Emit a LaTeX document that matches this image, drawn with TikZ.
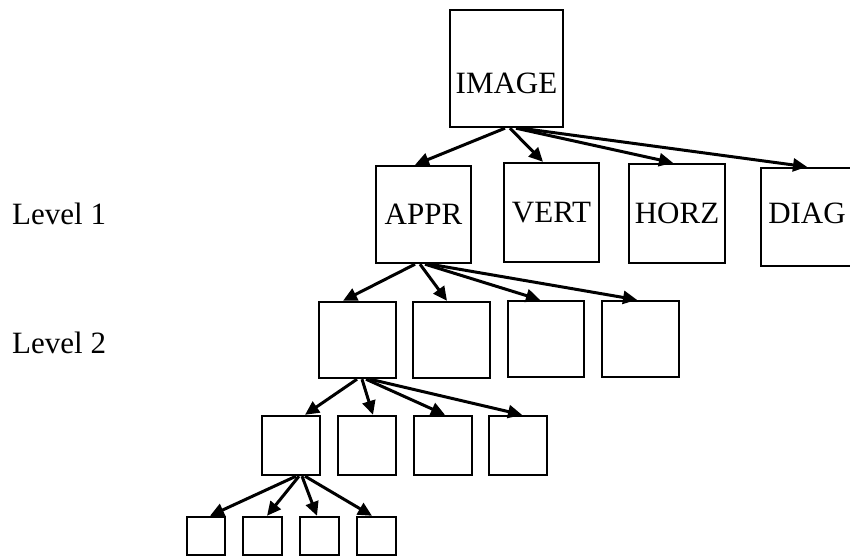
\documentclass[tikz,border=0pt]{standalone}
\usepackage{fontspec}
\setmainfont{Liberation Serif}
\usetikzlibrary{arrows.meta}
\begin{document}
\begin{tikzpicture}[x=1pt,y=-1pt,
  box/.style={draw,line width=2.4pt,rectangle,inner sep=0pt,font=\fontsize{31}{37}\selectfont},
  lab/.style={inner sep=0pt,anchor=west,font=\fontsize{31}{37}\selectfont},
  arr/.style={line width=3pt,-{Triangle[length=14pt,width=13pt]}}]
\useasboundingbox (0,0) rectangle (850,558);
% root
\node[box,minimum width=113pt,minimum height=117pt] (img) at (506.5,68.5) {\raisebox{-24.5pt}[0pt][0pt]{IMAGE}};
% level 1
\node[box,minimum width=95pt,minimum height=97pt] (appr) at (423.5,214.5) {APPR};
\node[box,minimum width=95pt,minimum height=99pt] (vert) at (551.5,212.5) {VERT};
\node[box,minimum width=96pt,minimum height=99pt] (horz) at (677,213.5) {HORZ};
\node[box,minimum width=92pt,minimum height=98pt] (diag) at (807,217) {\raisebox{-6pt}[0pt][0pt]{DIAG}};
% level 2
\node[box,minimum width=77pt,minimum height=76pt] (b21) at (357.5,340) {};
\node[box,minimum width=77pt,minimum height=76pt] (b22) at (451.5,340) {};
\node[box,minimum width=76pt,minimum height=76pt] (b23) at (546,339) {};
\node[box,minimum width=77pt,minimum height=76pt] (b24) at (640.5,339) {};
% level 3
\node[box,minimum width=58pt,minimum height=59pt] (b31) at (291,445.5) {};
\node[box,minimum width=58pt,minimum height=59pt] (b32) at (367,445.5) {};
\node[box,minimum width=58pt,minimum height=59pt] (b33) at (443,445.5) {};
\node[box,minimum width=58pt,minimum height=59pt] (b34) at (518,445.5) {};
% level 4
\node[box,minimum width=38pt,minimum height=38pt] (b41) at (206,536) {};
\node[box,minimum width=39pt,minimum height=38pt] (b42) at (262.5,536) {};
\node[box,minimum width=39pt,minimum height=38pt] (b43) at (319.5,536) {};
\node[box,minimum width=39pt,minimum height=38pt] (b44) at (376.5,536) {};
% labels
\node[lab] (l1) at (12,214) {Level 1};
\node[lab] (l2) at (12,343) {Level 2};
% arrows root -> level 1
\draw[arr] ([xshift=-1.5pt]img.south) -- ([xshift=-8.5pt]appr.north);
\draw[arr] ([xshift=3.5pt]img.south) -- ([xshift=-8.5pt]vert.north);
\draw[arr] ([xshift=9.5pt]img.south) -- ([xshift=-4pt]horz.north);
\draw[arr] ([xshift=14.5pt]img.south) -- ([xshift=0pt]diag.north);
% APPR -> level 2
\draw[arr] ([xshift=-8.5pt]appr.south) -- ([xshift=-14.5pt]b21.north);
\draw[arr] ([xshift=-3.5pt]appr.south) -- ([xshift=-4.5pt]b22.north);
\draw[arr] ([xshift=1.5pt]appr.south) -- ([xshift=-6pt]b23.north);
\draw[arr] ([xshift=6.5pt]appr.south) -- ([xshift=-3.5pt]b24.north);
% level 2 -> level 3
\draw[arr] ([xshift=-0.5pt]b21.south) -- ([xshift=14pt]b31.north);
\draw[arr] ([xshift=4.5pt]b21.south) -- ([xshift=6pt]b32.north);
\draw[arr] ([xshift=8.5pt]b21.south) -- ([xshift=2pt]b33.north);
\draw[arr] ([xshift=12.5pt]b21.south) -- ([xshift=4pt]b34.north);
% level 3 -> level 4
\draw[arr] ([xshift=5pt]b31.south) -- ([xshift=4pt]b41.north);
\draw[arr] ([xshift=8pt]b31.south) -- ([xshift=4.5pt]b42.north);
\draw[arr] ([xshift=11pt]b31.south) -- ([xshift=-2.5pt]b43.north);
\draw[arr] ([xshift=14pt]b31.south) -- ([xshift=-4.5pt]b44.north);
\end{tikzpicture}
\end{document}
